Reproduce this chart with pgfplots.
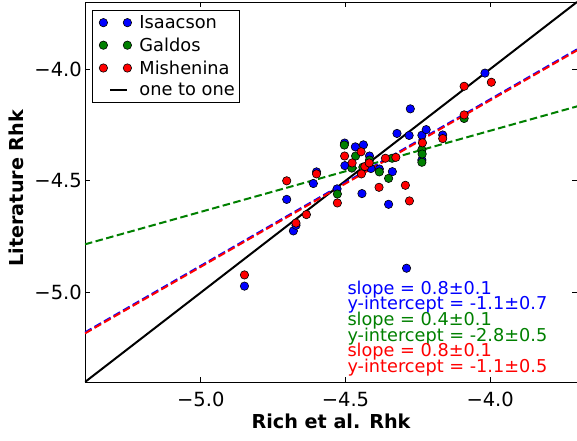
\documentclass[border=0pt]{standalone}
\usepackage{fontspec}
\setmainfont{DejaVu Sans}
\usepackage{pgfplots}
\usepackage{pgfplotstable}
\pgfplotsset{compat=1.18}
\definecolor{mgreen}{rgb}{0,0.5,0}

\pgfplotstableread{
x y
-4.849 -4.971
-4.680 -4.724
-4.671 -4.699
-4.703 -4.583
-4.611 -4.512
-4.600 -4.460
-4.529 -4.536
-4.503 -4.331
-4.466 -4.348
-4.438 -4.339
-4.502 -4.432
-4.417 -4.389
-4.412 -4.445
-4.383 -4.447
-4.443 -4.557
-4.351 -4.605
-4.338 -4.459
-4.322 -4.288
-4.280 -4.297
-4.276 -4.178
-4.236 -4.296
-4.221 -4.271
-4.236 -4.407
-4.164 -4.295
-4.289 -4.891
-4.018 -4.018
}\isaacson

\pgfplotstableread{
x y
-4.504 -4.340
-4.465 -4.389
-4.478 -4.443
-4.417 -4.407
-4.440 -4.439
-4.383 -4.460
-4.528 -4.559
-4.351 -4.489
-4.339 -4.399
-4.236 -4.361
-4.235 -4.380
-4.236 -4.417
-4.090 -4.221
}\galdos

\pgfplotstableread{
x y
-4.849 -4.921
-4.703 -4.500
-4.671 -4.689
-4.635 -4.651
-4.600 -4.469
-4.528 -4.599
-4.503 -4.389
-4.477 -4.420
-4.446 -4.370
-4.433 -4.436
-4.418 -4.420
-4.445 -4.469
-4.384 -4.529
-4.362 -4.399
-4.326 -4.395
-4.293 -4.520
-4.279 -4.590
-4.234 -4.330
-4.164 -4.311
-4.090 -4.205
-4.090 -4.077
-3.996 -4.059
}\mishenina

\begin{document}
\begin{tikzpicture}
\useasboundingbox (-85pt,-58pt) rectangle (492pt,382pt);
\begin{axis}[
  at={(0pt,0pt)}, anchor=south west,
  scale only axis, width=492pt, height=380pt,
  xmin=-5.4, xmax=-3.7, ymin=-5.4, ymax=-3.7,
  xtick={-5,-4.5,-4}, xticklabels={−5.0,−4.5,−4.0},
  ytick={-5,-4.5,-4}, yticklabels={−5.0,−4.5,−4.0},
  tick align=inside, major tick length=5pt,
  tick style={black, line width=0.8pt},
  axis line style={black, line width=0.8pt},
  ticklabel style={font=\fontsize{19.5}{22}\selectfont, inner sep=2pt},
  xticklabel style={yshift=-8pt},
  yticklabel style={xshift=-1pt},
  xlabel={Rich et al. Rhk}, ylabel={Literature Rhk},
  every axis x label/.style={at={([yshift=-46.3pt]rel axis cs:0.5,0)}, anchor=base, font=\bfseries\fontsize{19.2}{22}\selectfont},
  every axis y label/.style={at={([xshift=-61pt]rel axis cs:0,0.51)}, anchor=base, rotate=90, font=\bfseries\fontsize{19.2}{22}\selectfont},
  legend cell align=left,
  legend style={at={([xshift=7pt,yshift=-8pt]rel axis cs:0,1)}, anchor=north west,
    draw=black, line width=0.8pt, font=\fontsize{17.8}{21}\selectfont,
    row sep=3.8pt, inner xsep=3pt, inner ysep=3pt},
  clip=true,
]
\addplot[only marks, mark=*, mark size=4.2pt, mark options={fill=blue, draw=black, line width=0.6pt},
  legend image code/.code={\path[draw=none] (0pt,-5pt) rectangle (42pt,5pt);
    \draw[black, fill=blue, line width=0.6pt] (8pt,0pt) circle (4.2pt) (32pt,0pt) circle (4.2pt);}]
  table[x=x,y=y]{\isaacson};
\addlegendentry{Isaacson}
\addplot[only marks, mark=*, mark size=4.2pt, mark options={fill=mgreen, draw=black, line width=0.6pt},
  legend image code/.code={\path[draw=none] (0pt,-5pt) rectangle (42pt,5pt);
    \draw[black, fill=mgreen, line width=0.6pt] (8pt,0pt) circle (4.2pt) (32pt,0pt) circle (4.2pt);}]
  table[x=x,y=y]{\galdos};
\addlegendentry{Galdos}
\addplot[only marks, mark=*, mark size=4.2pt, mark options={fill=red, draw=black, line width=0.6pt},
  legend image code/.code={\path[draw=none] (0pt,-5pt) rectangle (42pt,5pt);
    \draw[black, fill=red, line width=0.6pt] (8pt,0pt) circle (4.2pt) (32pt,0pt) circle (4.2pt);}]
  table[x=x,y=y]{\mishenina};
\addlegendentry{Mishenina}
\addplot[black, line width=2pt, no marks,
  legend image code/.code={\path[draw=none] (0pt,-5pt) rectangle (42pt,5pt);
    \draw[black, line width=2pt] (15pt,0pt) -- (32pt,0pt);}]
  coordinates {(-5.4,-5.4) (-3.7,-3.7)};
\addlegendentry{one to one}
\addplot[forget plot, mgreen, line width=2pt, dash pattern=on 7.5pt off 3.5pt, no marks]
  coordinates {(-5.4,-4.784) (-3.7,-4.167)};
\addplot[forget plot, blue, line width=2pt, dash pattern=on 7.5pt off 3.5pt, no marks]
  coordinates {(-5.4,-5.178) (-3.7,-3.912)};
\addplot[forget plot, red, line width=2pt, dash pattern=on 7.5pt off 3.5pt, no marks, yshift=-1pt]
  coordinates {(-5.4,-5.178) (-3.7,-3.912)};
\end{axis}
\begin{scope}[font=\fontsize{17.7}{20}\selectfont]
\node[anchor=base west, inner sep=0pt, text=blue] at (262.3pt,88pt) {slope = 0.8±0.1};
\node[anchor=base west, inner sep=0pt, text=blue] at (262.3pt,72.3pt) {y-intercept = -1.1±0.7};
\node[anchor=base west, inner sep=0pt, text=mgreen] at (262.3pt,56.7pt) {slope = 0.4±0.1};
\node[anchor=base west, inner sep=0pt, text=mgreen] at (262.3pt,41pt) {y-intercept = -2.8±0.5};
\node[anchor=base west, inner sep=0pt, text=red] at (262.3pt,25.3pt) {slope = 0.8±0.1};
\node[anchor=base west, inner sep=0pt, text=red] at (262.3pt,9.7pt) {y-intercept = -1.1±0.5};
\end{scope}
\end{tikzpicture}
\end{document}
